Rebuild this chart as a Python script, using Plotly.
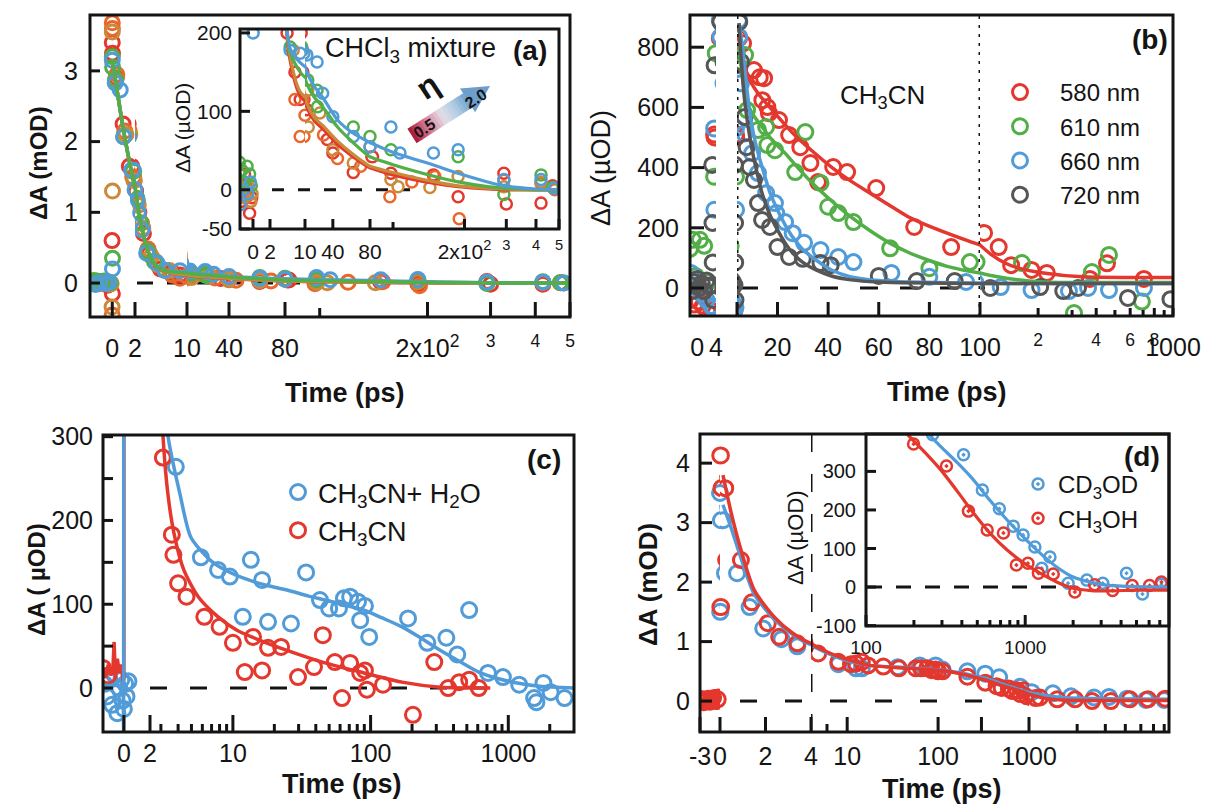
import math
import plotly.graph_objects as go

W, H = 1205, 805
FONT = "Liberation Sans, Arial, Helvetica, sans-serif"
INK = "#141414"

# ---------------- data ----------------
# (a) CHCl3 mixtures of increasing viscosity, ΔA in µOD
a_red_t = [-1.8, -1.4, -1.0, -0.7, -0.4, -0.15, -0.02, 0.0, 0.01, 0.02, 0.35, 0.95, 1.5, 2.1, 2.6, 3.3, 4.2,
           5.9, 7.7, 8.9, 12, 34, 40, 62, 82, 98, 148, 188, 293, 300, 420, 470]
a_red_v = [10, -15, 20, 5, -30, -10, 600, 3400, -150, 3250, 2900, 2250, 1650, 1300, 1000, 700, 420,
           200, 150, 115, 102, 64, 47, 22, 42, 21, 19, -9, 21, -18, -17, 5]
a_orange_t = [-1.7, -1.2, -0.8, -0.5, -0.25, -0.01, 0.0, 0.01, 0.4, 1.1, 1.8, 2.4, 3.0, 4.0, 5.2,
              7.7, 8.9, 10, 30, 45, 70, 97, 120, 150, 190, 293, 420, 480]
a_orange_v = [-5, 10, -10, 0, -15, -450, 3680, 3600, 2950, 2150, 1500, 1150, 850, 480, 300,
              115, 68, 95, 70, 40, 30, -9, 10, 17, -37, 12, 8, 0]
a_ochre_t = [-1.6, -1.1, -0.6, -0.3, -0.1, -0.02, 0.0, 0.02, 0.3, 1.2, 1.9, 2.5, 3.2, 4.5, 5.5,
             7.3, 13, 13.5, 26, 40, 62, 80, 98, 105, 143, 188, 293, 420]
a_ochre_v = [0, -10, 5, -15, -5, -340, 3550, 1300, 2880, 2100, 1450, 1100, 780, 380, 260,
             178, 127, 80, 98, 51, 34, 55, 13, 4, 3, 17, 4, 10]
a_green_t = [-1.9, -1.6, -1.3, -1.0, -0.7, -0.4, -0.2, 0.0, 0.02, 0.03, 0.3, 1.0, 1.8, 2.3, 2.9, 3.9, 5.0,
             6.6, 13, 23, 23.5, 62, 80, 98, 188, 293, 420, 470]
a_green_v = [15, 35, 25, 10, 30, 20, 5, 3200, 350, 3050, 2870, 2070, 1580, 1200, 850, 450, 300,
             182, 140, 127, 106, 80, 68, 51, 42, -6, 19, 3]
a_blue_t = [-1.5, -1.1, -0.6, -0.3, 0.0, 0.02, 0.26, 0.7, 1.0, 1.7, 2.0, 2.3, 2.5, 3.1, 3.8, 5.4,
            6.6, 8.9, 12, 23, 29, 40, 62, 80, 98, 107, 148, 188, 293, 420, 480]
a_blue_v = [-19, 0, -5, 10, 3150, 200, 2830, 2730, 2070, 1600, 1320, 1170, 990, 750, 420, 280,
            178, 174, 172, 163, 123, 93, 68, 55, 80, 47, 47, 51, 13, 13, 2]
a_fit_t = [0.0, 0.3, 1.0, 2.0, 3.0, 4.0, 5.0, 6.6, 8.9, 12, 20, 29, 45, 62, 80, 100, 150, 188, 250, 293, 400, 500]
a_fit_blue = [3150, 2850, 2150, 1350, 800, 450, 270, 180, 162, 150, 132, 118, 89, 72, 60, 48, 31, 21, 10, 5, 1, 0]
a_fit_green = [3150, 2850, 2150, 1350, 800, 450, 270, 176, 150, 135, 118, 106, 80, 60, 42, 32, 17, 10, 4, 2, 0, 0]
a_fit_ochre = [3150, 2850, 2150, 1350, 800, 450, 265, 170, 125, 110, 92, 82, 62, 45, 30, 22, 10, 5, 2, 1, 0, 0]
a_fit_red = [3150, 2850, 2150, 1350, 800, 450, 260, 165, 120, 105, 88, 78, 58, 42, 28, 19, 8, 4, 1, 0, 0, 0]

# (b) CH3CN, four probe wavelengths, ΔA in µOD
b_580_t = [-1.3, -0.6, 0.4, 1.2, 2.2, 3.0, 3.6, 3.7, 4.8, 6.4, 10.7, 13.0, 14.7, 14.0, 16.0, 16.6, 20.6, 24.6,
           29, 33, 36, 42, 47.5, 59, 74, 88.6, 105, 125, 145, 185, 222, 371, 455, 707]
b_580_v = [-40, -55, -45, -60, -80, -75, 510, 500, 830, 813, 724, 700, 697, 624, 601, 581, 558, 508,
           468, 415, 352, 402, 385, 332, 203, 136, 183, 136, 76, 60, 50, 30, 82, 30]
b_610_t = [-1.5, -0.9, -0.3, 0.6, 1.5, 2.4, 3.6, 3.95, 7.2, 8.0, 12.3, 15.5, 16.0, 19.0, 27, 31, 37, 40, 44, 50,
           64.5, 80, 96, 165, 307, 380, 466, 690]
b_610_v = [130, 160, 40, 160, 140, 20, 370, 780, 774, 591, 525, 535, 475, 458, 385, 518, 349, 270, 249, 219,
           132, 66, 86, 83, -83, 53, 110, -45]
b_660_t = [-1.3, -0.8, 0.0, 1.0, 2.0, 3.0, 3.4, 3.6, 3.65, 4.8, 4.9, 5.6, 7.0, 10, 12.3, 15.5, 19, 19.5, 23, 26,
           30.5, 37, 44, 50, 65, 80, 94.5, 128, 185, 289, 363, 466, 707]
b_660_v = [50, 20, 0, -20, -40, -60, -65, 530, 260, 890, 834, 680, 513, 448, 382, 315, 282, 249, 219, 182,
           150, 126, 103, 86, 50, 37, 20, 3, -7, -10, 0, -7, 0]
b_720_t = [-1.4, -1.0, -0.5, 0.0, 0.5, 1.0, 1.5, 2.0, 2.5, 3.0, 3.2, 3.25, 3.3, 3.4, 3.7, 4.9, 5.6, 7.0, 7.8,
           9.0, 10.7, 12.3, 13.9, 17, 20, 24.6, 30, 37, 41, 60, 75, 90, 113, 205, 270, 322, 584, 970]
b_720_v = [10, -10, 20, 30, 0, 15, -10, 25, 5, 10, 409, 216, 85, -40, 740, 884, 751, 568, 468,
           402, 359, 282, 226, 203, 136, 103, 97, 83, 76, 40, 23, 23, 0, 3, -10, 0, -33, -37]
b_fit_580_t = [4.8, 7.8, 12, 16.9, 26, 33.7, 41.3, 49, 56.6, 64.2, 71.8, 79.4, 87, 100, 115, 134.7, 160, 213, 338, 600, 1000]
b_fit_580_v = [830, 714, 650, 601, 515, 455, 402, 355, 315, 275, 236, 207, 182, 143, 110, 83, 65, 50, 37, 35, 35]
b_fit_610_t = [4.8, 6.3, 7.8, 10, 13.9, 18, 23, 28, 33.7, 41.3, 49, 56.6, 64.2, 71.8, 79.4, 87, 100, 134.7, 213, 338, 1000]
b_fit_610_v = [800, 690, 624, 580, 535, 490, 448, 400, 349, 290, 236, 190, 150, 118, 93, 72, 50, 33, 20, 18, 18]
b_fit_660_t = [4.8, 6.3, 7.8, 9.3, 11.5, 13.9, 16.9, 20, 23, 26, 30, 35.2, 41.3, 49, 60, 71.8, 100, 200, 1000]
b_fit_660_v = [880, 790, 670, 568, 475, 402, 320, 259, 210, 169, 128, 93, 60, 37, 25, 20, 16, 15, 15]
b_fit_720_t = [4.8, 5.0, 6.0, 7.0, 8.5, 10, 12, 13.9, 16.9, 20, 23, 26, 30, 35.2, 41.3, 49, 60, 100, 200, 1000]
b_fit_720_v = [880, 847, 720, 624, 530, 458, 380, 315, 245, 193, 150, 116, 85, 60, 40, 27, 20, 15, 15, 15]

# (c) CH3CN with and without water, ΔA in µOD
c_water_t = [-1.5, -1.3, -1.1, -0.9, -0.7, -0.5, -0.35, -0.2, -0.1, 0.0, 0.1, 0.2, 0.35,
             3.85, 5.85, 7.8, 9.5, 11.8, 13.5, 16.3, 18, 26.4, 34, 42.9, 50, 58.9, 64, 71, 81, 84, 91, 97.7,
             187, 258, 355, 426, 520, 712, 914, 1200, 1540, 1600, 1800, 2030, 2560]
c_water_v = [5, -10, 10, -20, 15, -30, 0, 10, -15, -25, 5, -10, 8,
             264, 156, 141, 133, 85, 153, 129, 79, 77, 138, 105, 95, 95, 107, 109, 103, 81, 98, 61,
             83, 54, 60, 40, 93, 18, 13, 4, -12, -17, 6, -5, -12]
c_dry_t = [-1.6, -1.2, 3.1, 3.6, 3.7, 4.0, 4.6, 6.2, 8.0, 10, 12.2, 14, 16.3, 18, 22.4, 29.7, 38.8, 45, 55,
           62, 71, 84, 91, 94, 123, 203, 290, 366, 440, 520, 610]
c_dry_v = [24, 15, 275, 183, 159, 125, 109, 85, 73, 54, 19, 61, 21, 48, 49, 13, 25, 63, 31,
           -12, 30, 18, 21, -2, 4, -32, 31, 0, 7, 10, 0]
c_fit_water_early_t = [-1.6, -0.05, -0.02, 0.0, 0.02, 2.0]
c_fit_water_early_v = [3, 3, -60, 500, 2000, 2000]
c_fit_water_t = [2.5, 3.0, 3.37, 4.12, 4.95, 6.8, 9.0, 13, 18, 24.7, 35, 46.6, 65, 89.6, 120, 169, 230, 320,
                 450, 610, 850, 1160, 1700, 3000]
c_fit_water_v = [900, 450, 302, 232, 180, 153, 140, 129, 122, 117, 110, 105, 99, 93, 84, 73, 60, 45,
                 31, 19, 11, 6, 2, 0]
c_fit_dry_early_t = [-1.6, -1.4, -1.2, -1.0, -0.85, -0.75, -0.65, -0.5, -0.35, -0.2, -0.05, 0.0, 0.02, 2.0]
c_fit_dry_early_v = [22, 12, 28, 15, 20, 55, 12, 35, 18, 28, 8, 10, 2000, 2000]
c_fit_dry_t = [2.5, 2.9, 3.1, 3.37, 3.73, 4.4, 5.6, 7.8, 10.7, 15.7, 24.7, 46.6, 89.6, 169, 320, 740]
c_fit_dry_v = [1200, 420, 303, 232, 185, 141, 109, 85, 69, 57, 45, 30, 18, 7, 1, 0]

# (d) CD3OD vs CH3OH, main trace in mOD
d_cd3od_t = [-3.0, -2.8, -2.5, 0.0, 0.02, 0.14, 0.75, 1.3, 1.9, 2.7, 3.4, 8, 12.5, 14.5, 36, 63, 94, 112, 210,
             330, 470, 800, 1040, 1410, 1830, 2550, 3160, 4100, 5380, 7000]
d_cd3od_v = [0.0, 0.03, -0.01, 3.5, 1.5, 3.04, 2.15, 1.58, 1.22, 1.04, 0.92, 0.62, 0.55, 0.55, 0.57, 0.6, 0.6,
             0.53, 0.5, 0.46, 0.4, 0.24, 0.15, 0.13, 0.08, 0.06, 0.07, 0.04, 0.02, 0.02]
d_ch3oh_t = [-3.0, -2.7, -2.4, -2.1, -1.8, -1.5, -1.2, -0.9, -0.6, -0.3, -0.1,
             0.04, 0.05, 0.23, 0.92, 1.4, 2.1, 2.6, 3.4,
             4.8, 8, 11, 12.5, 14.5, 17, 25, 37, 57, 65,
             76, 85, 94, 100, 112, 210, 330, 440, 500, 600,
             650, 740, 800, 875, 950, 1100, 1170, 1500, 1940, 2480,
             3250, 4270, 5540, 7100]
d_ch3oh_v = [0.0, 0.03, -0.02, 0.01, 0.04, -0.01, 0.02, 0.05, 0.0, 0.06, 0.03,
             4.13, 1.58, 3.58, 2.37, 1.66, 1.31, 1.08, 0.97,
             0.80, 0.66, 0.62, 0.63, 0.66, 0.60, 0.58, 0.55, 0.55, 0.55,
             0.55, 0.52, 0.53, 0.50, 0.50, 0.41, 0.31, 0.25, 0.22, 0.21,
             0.17, 0.18, 0.12, 0.18, 0.08, 0.05, 0.06, 0.03, 0.03, 0.0,
             0.0, 0.03, 0.03, 0.04]
d_fit_t = [0.13, 0.5, 0.84, 1.5, 2.37, 3.2, 4.0, 6.6, 10, 17.8, 48, 126, 335, 545, 880, 1240, 1600, 3000, 7500]
d_fit_ch3oh = [3.8, 3.15, 2.65, 1.87, 1.42, 1.14, 0.97, 0.8, 0.7, 0.6, 0.55, 0.50, 0.35, 0.24, 0.15, 0.05, 0.02, 0.01, 0.01]
d_fit_cd3od = [3.3, 2.9, 2.5, 1.8, 1.38, 1.12, 0.95, 0.78, 0.68, 0.6, 0.56, 0.51, 0.38, 0.27, 0.17, 0.1, 0.06, 0.04, 0.03]
# (d) inset, long-time tail in µOD
di_cd3od_t = [262, 410, 538, 688, 842, 970, 1150, 1270, 1430, 1860, 2440, 3070, 4330, 5450, 7170]
di_cd3od_v = [395, 343, 252, 203, 158, 135, 104, 49, 78, 10, 18, 10, 36, -18, 7]
di_ch3oh_t = [199, 320, 440, 577, 730, 880, 1040, 1210, 1500, 2050, 2730, 3540, 4700, 6040, 7170]
di_ch3oh_v = [371, 314, 197, 148, 140, 57, 62, 36, 34, -13, 6, -9, 4, 4, 13]
di_fit_cd3od_t = [244, 295, 380, 473, 600, 770, 1000, 1240, 1600, 2000, 2600, 3250, 5000, 8000]
di_fit_cd3od_v = [399, 364, 320, 278, 225, 174, 125, 88, 50, 26, 12, 5, 1, 0]
di_fit_ch3oh_t = [183, 240, 295, 380, 473, 600, 770, 1000, 1240, 1600, 2000, 2600, 3250, 5000, 8000]
di_fit_ch3oh_v = [395, 345, 304, 245, 192, 140, 96, 60, 36, 12, -3, -9, -10, -8, -8]

RED, ORANGE, OCHRE, GREEN, BLUE, GRAY = "#e4372d", "#ea672c", "#c98a3a", "#52af47", "#519cd8", "#565656"

# ---------------- helpers ----------------
fig = go.Figure()
axes, shapes, annotations = {}, [], []
count = {"x": 0, "y": 0}
TICK_W = 3


def fx(p):
    return p / W


def fy(p):
    return 1 - p / H


def new_axis(letter):
    count[letter] += 1
    s = "" if count[letter] == 1 else str(count[letter])
    return f"{letter}axis{s}", f"{letter}{s}"


def seg_pixel(seg, v):
    """Horizontal pixel of value v on a (linear or log) time segment."""
    lo, hi = seg["range"]
    if seg.get("log", False):
        f = (math.log10(v) - math.log10(lo)) / (math.log10(hi) - math.log10(lo))
    else:
        f = (v - lo) / (hi - lo)
    return seg["px"][0] + f * (seg["px"][1] - seg["px"][0])


def tick(x0, y0, x1, y1):
    shapes.append(dict(type="line", xref="paper", yref="paper", x0=fx(x0), x1=fx(x1), y0=fy(y0), y1=fy(y1),
                       line=dict(color=INK, width=TICK_W), layer="above"))


def make_panel(frame, yrange, ytick, segments, yfont=25, yticklen=10, yminor=None, ystandoff=8,
               xstandoff=12, border=3):
    """One framed panel: a shared y axis and a broken time axis made of several x segments."""
    left, top, right, bottom = frame
    height = bottom - top
    yname, yref = new_axis("y")
    xrefs = []
    for seg in segments:
        xname, xref = new_axis("x")
        log = seg.get("log", False)
        lo, hi = seg["range"]
        axes[xname] = dict(
            domain=[fx(seg["px"][0]), fx(seg["px"][1])], anchor=yref,
            type="log" if log else "linear",
            range=[math.log10(lo), math.log10(hi)] if log else [lo, hi],
            tickmode="array", tickvals=seg.get("tickvals", []), ticktext=seg.get("ticktext", []),
            ticks="", tickfont=dict(family=FONT, size=seg.get("font", 25), color=INK), tickangle=0,
            ticklabelstandoff=seg.get("standoff", xstandoff), automargin=False,
            showline=False, showgrid=False, zeroline=False, fixedrange=True,
        )
        # inward tick marks on the bottom edge
        if seg.get("marks", True):
            marks = [(v, seg.get("ticklen", 14)) for v in seg.get("tickvals", [])]
            marks += [(v, seg.get("minorlen", 7)) for v in seg.get("minor", [])]
            for v, ln in marks:
                p = seg_pixel(seg, v)
                tick(p, bottom, p, bottom - ln)
        xrefs.append(xref)
    axes[yname] = dict(
        domain=[fy(bottom), fy(top)], anchor=xrefs[0], range=yrange,
        tickmode="array", tickvals=ytick, ticktext=[str(v) for v in ytick], ticks="",
        tickfont=dict(family=FONT, size=yfont, color=INK), ticklabelstandoff=ystandoff, automargin=False,
        showline=False, showgrid=False, zeroline=False, fixedrange=True,
    )
    ylo, yhi = yrange
    for v in list(ytick) + list(yminor or []):
        p = bottom - (v - ylo) / (yhi - ylo) * height
        tick(left, p, left + yticklen, p)
    shapes.append(dict(type="rect", xref="paper", yref="paper", x0=fx(left), x1=fx(right),
                       y0=fy(bottom), y1=fy(top), line=dict(color=INK, width=border), layer="above"))
    return dict(y=yref, xs=xrefs)


def add_points(panel, t, v, color, size=15, lw=3, scale=1.0, name=None, legend="legend", symbol="circle-open"):
    y = [val * scale for val in v]
    for i, xr in enumerate(panel["xs"]):
        fig.add_trace(go.Scatter(
            x=t, y=y, xaxis=xr, yaxis=panel["y"], mode="markers", name=name or "",
            marker=dict(symbol=symbol, size=size, color=color, line=dict(color=color, width=lw)),
            showlegend=(name is not None and i == 0), legend=legend, hoverinfo="skip"))


def add_fit(panel, t, v, color, width=3.5, scale=1.0, shape="spline"):
    y = [val * scale for val in v]
    for xr in panel["xs"]:
        fig.add_trace(go.Scatter(
            x=t, y=y, xaxis=xr, yaxis=panel["y"], mode="lines", showlegend=False, hoverinfo="skip",
            line=dict(color=color, width=width, shape=shape, smoothing=0.7 if shape == "spline" else None)))


def hdash(panel, x0, x1, dash="16px,14px", width=3):
    shapes.append(dict(type="line", xref="paper", yref=panel["y"], x0=fx(x0), x1=fx(x1), y0=0, y1=0,
                       line=dict(color=INK, width=width, dash=dash), layer="below"))


def vline(panel, seg, t, dash, width=3):
    shapes.append(dict(type="line", xref=panel["xs"][seg], yref=f"{panel['y']} domain", x0=t, x1=t, y0=0, y1=1,
                       line=dict(color=INK, width=width, dash=dash), layer="above"))


def text(s, x, y, size, bold=False, angle=0, anchor="center", color=INK):
    annotations.append(dict(text=f"<b>{s}</b>" if bold else s, x=fx(x), y=fy(y), xref="paper", yref="paper",
                            showarrow=False, textangle=angle, xanchor=anchor, yanchor="middle",
                            font=dict(family=FONT, size=size, color=color)))


SUP_LOG = ["2x10<sup>2</sup>", "<sup>3</sup>", "<sup>4</sup>", "<sup>5</sup>"]

# ---------------- panel (a) ----------------
pa = make_panel((90, 15, 570, 317), [-0.48, 3.79], [0, 1, 2, 3], [
    dict(px=(90, 135), range=(-1.96, 2), tickvals=[0], ticktext=["0"], ticklen=15),
    dict(px=(135, 187), range=(2, 10), tickvals=[2], ticktext=["2"], ticklen=15),
    dict(px=(187, 285), range=(10, 80), tickvals=[10, 40, 80], ticktext=["10", "40", "80"], ticklen=15),
    dict(px=(285, 570), range=(80, 500), log=True, tickvals=[200, 300, 400, 500], ticktext=SUP_LOG,
         ticklen=15, minor=[100], minorlen=9),
], ystandoff=11, xstandoff=14)
pai = make_panel((240, 29, 559, 229), [-50, 205], [-50, 0, 100, 200], [
    dict(px=(240, 270), range=(-1.53, 2), tickvals=[0], ticktext=["0"], font=21, ticklen=10),
    dict(px=(270, 305), range=(2, 10), tickvals=[2], ticktext=["2"], font=21, ticklen=10),
    dict(px=(305, 370), range=(10, 80), tickvals=[10, 40, 80], ticktext=["10", "40", "80"], font=21, ticklen=10),
    dict(px=(370, 559), range=(80, 500), log=True, tickvals=[200, 300, 400, 500], ticktext=SUP_LOG, font=21,
         ticklen=10, minor=[100], minorlen=7),
], yfont=21, yticklen=10, ystandoff=7, xstandoff=8)

hdash(pa, 137, 300)
hdash(pai, 272, 410, dash="12px,14px")
series_a = [(a_red_t, a_red_v, RED), (a_orange_t, a_orange_v, ORANGE), (a_ochre_t, a_ochre_v, OCHRE),
            (a_green_t, a_green_v, GREEN), (a_blue_t, a_blue_v, BLUE)]
for t, v, c in series_a:
    add_points(pa, t, v, c, size=14, lw=3, scale=0.001)
for v, c in [(a_fit_red, RED), (a_fit_ochre, OCHRE), (a_fit_blue, BLUE), (a_fit_green, GREEN)]:
    add_fit(pa, a_fit_t, v, c, width=3.5, scale=0.001)
for t, v, c in series_a:
    add_points(pai, t, v, c, size=11, lw=2.5)
for v, c in [(a_fit_red, RED), (a_fit_ochre, OCHRE), (a_fit_green, GREEN), (a_fit_blue, BLUE)]:
    add_fit(pai, a_fit_t, v, c, width=3.2)

text("ΔA (mOD)", 38, 163, 24, bold=True, angle=-90)
text("Time (ps)", 345, 393, 27, bold=True)
text("ΔA (µOD)", 182, 128, 21, angle=-90)
text("CHCl<sub>3</sub> mixture", 410, 50, 27)
text("(a)", 530, 50, 28, bold=True)

# viscosity arrow (0.5 -> 2.0)
tail, tip = (412.0, 136.0), (490.0, 86.0)
dx, dy = tip[0] - tail[0], tip[1] - tail[1]
L = math.hypot(dx, dy)
ux, uy = dx / L, dy / L
nx, ny = -uy, ux
body_len, half_w, head_w = 66.0, 8.5, 14.0
stops = [(0.0, (168, 22, 52)), (0.3, (214, 130, 155)), (0.55, (228, 222, 230)), (0.78, (175, 205, 228)),
         (1.0, (112, 162, 206))]


def grad(f):
    for (f0, c0), (f1, c1) in zip(stops[:-1], stops[1:]):
        if f0 <= f <= f1:
            k = (f - f0) / (f1 - f0)
            return "rgb(%d,%d,%d)" % tuple(round(a + (b - a) * k) for a, b in zip(c0, c1))
    return "rgb(%d,%d,%d)" % stops[-1][1]


def pt(s, w):
    return fx(tail[0] + ux * s + nx * w), fy(tail[1] + uy * s + ny * w)


N = 18
for i in range(N):
    s0, s1 = body_len * i / N, body_len * (i + 1) / N + 0.6
    pts = [pt(s0, -half_w), pt(s1, -half_w), pt(s1, half_w), pt(s0, half_w)]
    path = "M " + " L ".join(f"{x:.5f},{y:.5f}" for x, y in pts) + " Z"
    shapes.append(dict(type="path", xref="paper", yref="paper", path=path, fillcolor=grad((i + 0.5) / N),
                       line=dict(width=0), layer="above"))
head = [pt(body_len, -head_w), pt(L, 0), pt(body_len, head_w)]
shapes.append(dict(type="path", xref="paper", yref="paper",
                   path="M " + " L ".join(f"{x:.5f},{y:.5f}" for x, y in head) + " Z",
                   fillcolor="rgb(110,158,204)", line=dict(width=0), layer="above"))
text("0.5", 424, 128, 16, bold=True, angle=-33)
text("2.0", 476, 99, 16, bold=True, angle=-33)
text("η", 428, 86, 32, bold=True, angle=-33)

# ---------------- panel (b) ----------------
pb = make_panel((690, 15, 1173, 316), [-93, 907], [0, 200, 400, 600, 800], [
    dict(px=(690, 716), range=(-1.5, 4), tickvals=[0, 4], ticktext=["0", "4"], marks=False),
    dict(px=(737, 980), range=(4, 100), tickvals=[4, 20, 40, 60, 80, 100],
         ticktext=["", "20", "40", "60", "80", "100"], ticklen=14),
    dict(px=(980, 1173), range=(100, 1000), log=True, tickvals=[200, 400, 600, 800, 1000],
         ticktext=["<sup>2</sup>", "<sup>4</sup>", "<sup>6</sup>", "<sup>8</sup>", "1000"], ticklen=8,
         minor=[300, 500, 700, 900], minorlen=6),
], yticklen=14, ystandoff=10, xstandoff=14)
vline(pb, 1, 4, "3px,6px")
vline(pb, 1, 100, "3px,6px")
hdash(pb, 740, 985, dash="18px,22px")
for t, v, c, nm in [(b_580_t, b_580_v, RED, "580 nm"), (b_610_t, b_610_v, GREEN, "610 nm"),
                    (b_660_t, b_660_v, BLUE, "660 nm"), (b_720_t, b_720_v, GRAY, "720 nm")]:
    add_points(pb, t, v, c, size=15, lw=3, name=nm, legend="legend")
for t, v, c in [(b_fit_580_t, b_fit_580_v, RED), (b_fit_610_t, b_fit_610_v, GREEN),
                (b_fit_660_t, b_fit_660_v, BLUE), (b_fit_720_t, b_fit_720_v, GRAY)]:
    add_fit(pb, t, v, c, width=3.5)
text("ΔA (µOD)", 601, 168, 27, angle=-90)
text("Time (ps)", 947, 392, 27, bold=True)
text("CH<sub>3</sub>CN", 883, 97, 26)
text("(b)", 1150, 40, 28, bold=True)

# ---------------- panel (c) ----------------
c_minor = [3, 4, 5, 6, 7, 8, 9, 20, 30, 40, 50, 60, 70, 80, 90, 200, 300, 400, 500, 600, 700, 800, 900, 2000]
pc = make_panel((103, 435, 574, 732), [-52.5, 302], [0, 100, 200, 300], [
    dict(px=(103, 150), range=(-1.6, 2), tickvals=[0, 2], ticktext=["0", "2"], ticklen=17),
    dict(px=(150, 574), range=(2.5, 3000), log=True, tickvals=[10, 100, 1000], ticktext=["10", "100", "1000"],
         ticklen=17, minor=c_minor, minorlen=8),
], yminor=[50, 150, 250], ystandoff=9, xstandoff=4)
hdash(pc, 150, 490, dash="17px,23px")
add_points(pc, c_water_t, c_water_v, BLUE, size=15, lw=3, name="CH<sub>3</sub>CN+ H<sub>2</sub>O", legend="legend2")
add_points(pc, c_dry_t, c_dry_v, RED, size=15, lw=3, name="CH<sub>3</sub>CN", legend="legend2")
add_fit(pc, c_fit_dry_early_t, c_fit_dry_early_v, RED, width=3.5, shape="linear")
add_fit(pc, c_fit_dry_t, c_fit_dry_v, RED, width=3.5)
add_fit(pc, c_fit_water_early_t, c_fit_water_early_v, BLUE, width=3.5, shape="linear")
add_fit(pc, c_fit_water_t, c_fit_water_v, BLUE, width=3.5)
text("ΔA ( µOD)", 36, 580, 24, bold=True, angle=-90)
text("Time (ps)", 342, 784, 27, bold=True)
text("(c)", 544, 459, 28, bold=True)

# ---------------- panel (d) ----------------
d_minor_inset = [200, 300, 400, 500, 600, 700, 800, 900, 2000, 3000, 4000, 5000, 6000, 7000]
pdm = make_panel((700, 434, 1169, 732), [-0.52, 4.49], [0, 1, 2, 3, 4], [
    dict(px=(700, 720), range=(-3, 0), tickvals=[-3, 0], ticktext=["-3", "0"], ticklen=15),
    dict(px=(720, 811), range=(0, 4), tickvals=[2, 4], ticktext=["2", "4"], ticklen=15),
    dict(px=(811, 1029), range=(4, 1000), log=True, tickvals=[10, 100, 300, 1000],
         ticktext=["10", "100", "", "1000"], ticklen=15, minor=[6], minorlen=8),
    dict(px=(1029, 1169), range=(1000, 7500), log=True, tickvals=[2000, 3000, 4000, 5000, 6000, 7000],
         ticktext=[""] * 6, ticklen=8),
], yticklen=12, ystandoff=9, xstandoff=7)
pdi = make_panel((866, 434, 1169, 626), [-101, 397], [-100, 0, 100, 200, 300], [
    dict(px=(866, 1169), range=(100, 8000), log=True, tickvals=[100, 1000], ticktext=["100", "1000"], font=19,
         ticklen=11, minor=d_minor_inset, minorlen=6),
], yfont=20, yticklen=10, ystandoff=9, xstandoff=8)
vline(pdm, 2, 4, "18px,22px")
hdash(pdm, 740, 1000, dash="17px,28px")
hdash(pdi, 867, 1075, dash="15px,14px")
add_points(pdm, d_cd3od_t, d_cd3od_v, BLUE, size=15, lw=3)
add_points(pdm, d_ch3oh_t, d_ch3oh_v, RED, size=15, lw=3)
add_fit(pdm, d_fit_t, d_fit_cd3od, BLUE, width=3.5)
add_fit(pdm, d_fit_t, d_fit_ch3oh, RED, width=3.5)
add_points(pdi, di_cd3od_t, di_cd3od_v, BLUE, size=11, lw=2.5, symbol="circle-open-dot",
           name="CD<sub>3</sub>OD", legend="legend3")
add_points(pdi, di_ch3oh_t, di_ch3oh_v, RED, size=11, lw=2.5, symbol="circle-open-dot",
           name="CH<sub>3</sub>OH", legend="legend3")
add_fit(pdi, di_fit_cd3od_t, di_fit_cd3od_v, BLUE, width=3.2)
add_fit(pdi, di_fit_ch3oh_t, di_fit_ch3oh_v, RED, width=3.2)
text("ΔA (mOD)", 648, 585, 26, bold=True, angle=-90)
text("Time (ps)", 942, 789, 27, bold=True)
text("ΔA (µOD)", 795, 538, 22, angle=-90)
text("(d)", 1142, 456, 28, bold=True)

leg = dict(bgcolor="rgba(0,0,0,0)", borderwidth=0, tracegroupgap=0, xanchor="left", yanchor="top",
           itemclick=False, itemdoubleclick=False)
fig.update_layout(
    template="none",
    width=W, height=H, margin=dict(l=0, r=0, t=0, b=0, pad=0, autoexpand=False),
    paper_bgcolor="white", plot_bgcolor="rgba(0,0,0,0)", hovermode=False,
    shapes=shapes, annotations=annotations,
    legend=dict(x=fx(980), y=fy(70), font=dict(family=FONT, size=24, color=INK), itemwidth=70, **leg),
    legend2=dict(x=fx(278), y=fy(468), font=dict(family=FONT, size=27, color=INK), **leg),
    legend3=dict(x=fx(1018), y=fy(462), font=dict(family=FONT, size=24, color=INK), **leg),
    **axes,
)
fig.write_html("out.html")
